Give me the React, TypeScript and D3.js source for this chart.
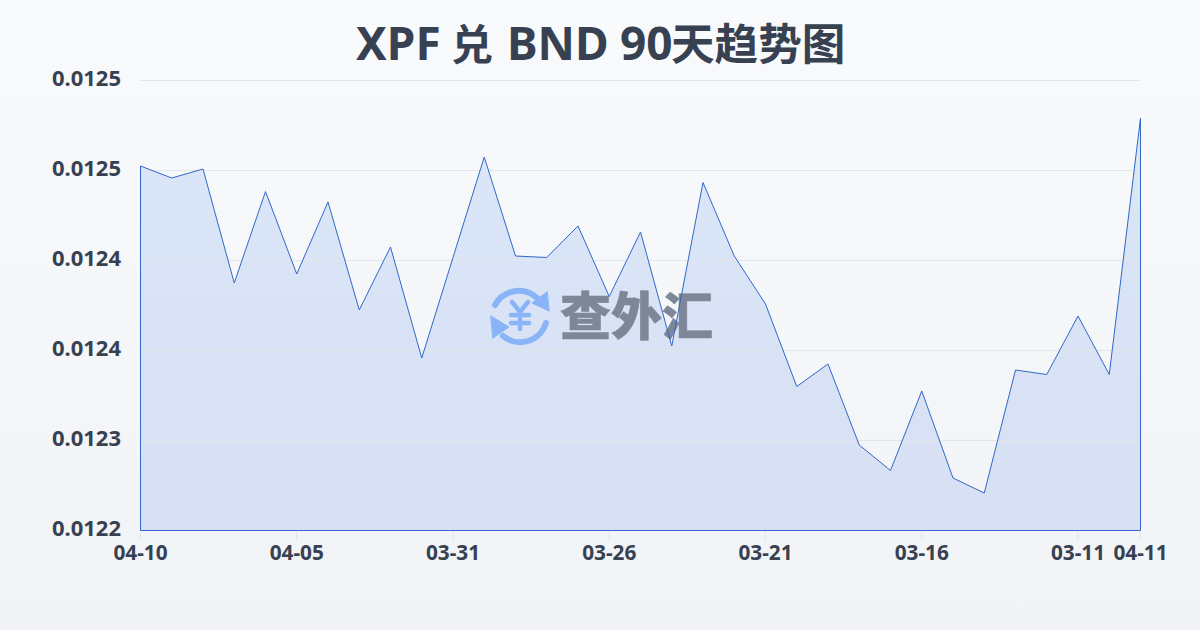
import React from "react";
import * as d3 from "d3";

const pointValues = [
  0.012483, 0.012475, 0.012481, 0.012405, 0.012466, 0.012411, 0.012459, 0.012387, 0.012429,
  0.012355, 0.012422, 0.012489, 0.012423, 0.012422, 0.012443, 0.012396, 0.012439, 0.012363,
  0.012472, 0.012423, 0.012391, 0.012336, 0.012351, 0.012297, 0.01228, 0.012333, 0.012275,
  0.012265, 0.012347, 0.012344, 0.012383, 0.012344, 0.012515,
];
const yTickValues = [0.01224, 0.0123, 0.01236, 0.01242, 0.01248, 0.01254];
const yTickLabels = ["0.0122", "0.0123", "0.0124", "0.0124", "0.0125", "0.0125"];
const xTickIndex = [0, 5, 10, 15, 20, 25, 30, 32];
const xTickLabels = ["04-10", "04-05", "03-31", "03-26", "03-21", "03-16", "03-11", "04-11"];
const titleParts = ["XPF", "兑", "BND", "90", "天趋势图"];
const titleStarts = [356, 451, 507, 620, 671];
const titleSizes = [46, 42, 46, 46, 43.6];
const FONT = "'Noto Sans','Noto Sans CJK SC',sans-serif";
const INK = "#374151";

export default function App() {
  const x = d3.scaleLinear().domain([0, pointValues.length - 1]).range([140.5, 1140.5]);
  const y = d3.scaleLinear().domain([0.01224, 0.01254]).range([530.5, 80.5]);
  const line = d3.line<number>().x((_, i) => x(i)).y((d) => y(d));
  const area = d3.area<number>().x((_, i) => x(i)).y0(530.5).y1((d) => y(d));
  const closed = `M140.5,530.5${line(pointValues)!.replace(/^M/, "L")}L1140.5,530.5Z`;
  return (
    <svg width={1200} height={630} viewBox="0 0 1200 630" style={{ position: "absolute", left: 0, top: 0, display: "block" }}>
      <defs>
        <linearGradient id="bg" x1="0" y1="0" x2="0" y2="1">
          <stop offset="0" stopColor="#f8fafc" />
          <stop offset="1" stopColor="#f1f3f6" />
        </linearGradient>
        <linearGradient id="fill" x1="0" y1="0" x2="0" y2="1">
          <stop offset="0" stopColor="#dbe6f9" />
          <stop offset="1" stopColor="#d8e0f3" />
        </linearGradient>
      </defs>
      <rect width={1200} height={630} fill="url(#bg)" />
      <text y={60} fontFamily={FONT} fontWeight={700} fill={INK}>
        {titleParts.map((t, i) => (
          <tspan key={i} x={titleStarts[i]} fontSize={titleSizes[i]}>{t}</tspan>
        ))}
      </text>
      <path d={area(pointValues)!} fill="url(#fill)" />
      {yTickValues.map((v, i) => (
        <g key={i}>
          <line x1={140} x2={1140} y1={y(v)} y2={y(v)} stroke="#e2e5ea" strokeOpacity={i === 0 ? 0 : 1} />
          <text x={121} y={y(v) + 5.5} textAnchor="end" fontFamily={FONT} fontWeight={700} fontSize={22} fill={INK}>{yTickLabels[i]}</text>
        </g>
      ))}
      {xTickIndex.map((idx, i) => (
        <g key={idx}>
          <line x1={x(idx)} x2={x(idx)} y1={530} y2={541} stroke="#e2e5ea" />
          <text x={x(idx)} y={560} textAnchor="middle" fontFamily={FONT} fontWeight={700} fontSize={20.8} fill={INK}>{xTickLabels[i]}</text>
        </g>
      ))}
      <g fill="none" stroke="#8ab4f8" strokeWidth={6} strokeLinecap="round">
        <path d="M495,305A27,27 0 0 1 537,298" />
        <path d="M546,323A27,27 0 0 1 503,336" />
        <path d="M549,311L532,303L547,292Z" fill="#8ab4f8" stroke="#8ab4f8" strokeWidth={1} />
        <path d="M491,316L509,327L493,338Z" fill="#8ab4f8" stroke="#8ab4f8" strokeWidth={1} />
        <path d="M512,302L520,312L528,302M520,312V329M511,315H529M511,323H529" strokeWidth={4.5} />
      </g>
      <text x={560} y={335} fontFamily={FONT} fontWeight={900} fontSize={51} fill="#7e8798" stroke="#7e8798" strokeWidth={0.6}>查外汇</text>
      <path d={closed} fill="none" stroke="#3068c8" strokeWidth={1} />
    </svg>
  );
}
